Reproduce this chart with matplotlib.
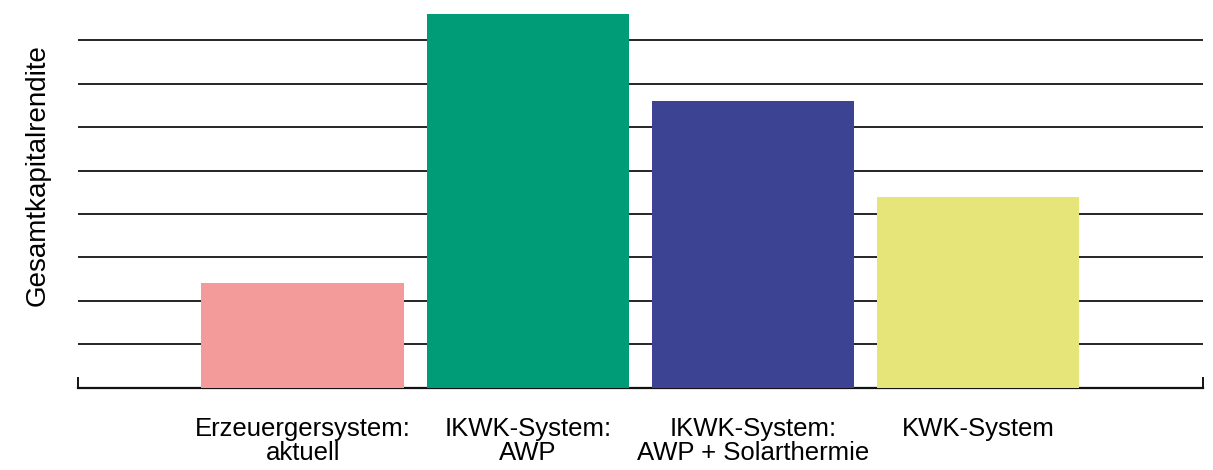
import matplotlib
matplotlib.use("Agg")
import matplotlib.pyplot as plt

# Data
categories = ["Erzeuergersystem:\naktuell", "IKWK-System:\nAWP",
              "IKWK-System:\nAWP + Solarthermie", "KWK-System"]
values = [2.4, 8.6, 6.6, 4.4]
colors = ["#F29B9A", "#009B77", "#3B4392", "#E6E57A"]
y_label = "Gesamtkapitalrendite"

W, H = 1213, 470
fig = plt.figure(figsize=(W / 100, H / 100), dpi=100)
left, right, bottom, top = 77.7, 1203, 387.5, 0
ax = fig.add_axes([left / W, 1 - bottom / H, (right - left) / W, (bottom - top) / H])

x = list(range(len(categories)))
ax.bar(x, values, width=0.9, color=colors, zorder=3)

ax.set_xlim(-1, 4)
ax.set_ylim(0, 8.93)
ax.set_yticks(range(1, 9))
ax.yaxis.grid(True, color="#000000", linewidth=1.2, zorder=0)
ax.tick_params(axis="y", length=0, labelleft=False)

ax.set_xticks(x)
ax.set_xticklabels(categories, fontfamily="Liberation Sans", fontsize=18.5,
                   linespacing=1.0)
ax.tick_params(axis="x", length=0, pad=21)
ax.set_xticks([-1, 4], minor=True)
ax.tick_params(axis="x", which="minor", direction="in", length=8, width=1.3)

for s in ["top", "right", "left"]:
    ax.spines[s].set_visible(False)
ax.spines["bottom"].set_linewidth(1.6)
ax.spines["bottom"].set_color("#111111")

ax.set_ylabel(y_label, fontfamily="Liberation Sans", fontsize=20)
ax.yaxis.set_label_coords(-0.0245, 0.548)

fig.savefig("out.png", dpi=100)
